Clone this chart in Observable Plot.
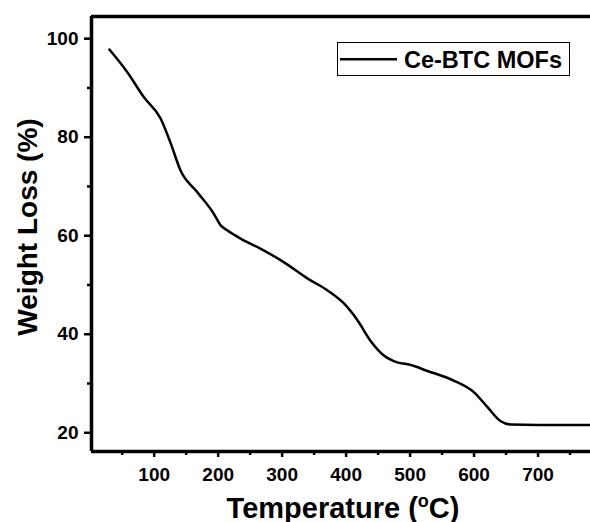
<!DOCTYPE html>
<html><head><meta charset="utf-8">
<script src="https://cdn.jsdelivr.net/npm/d3@7"></script>
<script src="https://cdn.jsdelivr.net/npm/@observablehq/plot@0.6"></script>
<style>body{margin:0;background:#fff;overflow:hidden;}</style>
</head><body><div id="chart"></div>
<script>
const temperature = [30, 58, 84, 110, 126, 141, 167, 193, 204, 214, 225, 235, 266, 303, 340, 371, 397, 418, 438, 459, 480, 500, 526, 568, 600, 621, 641, 657, 700, 782];
const weightLoss  = [97.8, 93.2, 88.1, 83.8, 78.7, 73.3, 68.9, 64.5, 62.1, 61.1, 60.2, 59.4, 57.4, 54.6, 51.3, 48.9, 46.2, 42.8, 38.7, 35.7, 34.3, 33.8, 32.6, 30.6, 28.2, 25.2, 22.4, 21.7, 21.6, 21.6];
const xMajorTicks = [100, 200, 300, 400, 500, 600, 700];
const xMinorTicks = [50, 150, 250, 350, 450, 550, 650, 750];
const yMajorTicks = [20, 40, 60, 80, 100];
const yMinorTicks = [30, 50, 70, 90];
const seriesName = "Ce-BTC MOFs";
const xLabel = "Temperature (°C)";
const yLabel = "Weight Loss (%)";

const data = temperature.map((t, i) => ({t, w: weightLoss[i]}));
const xDomain = [2, 782];
const yDomain = [16.2, 104.5];
const font = '"Liberation Sans", Arial, sans-serif';
const ink = "#000";

const chart = Plot.plot({
  width: 590, height: 522,
  marginLeft: 91, marginRight: 0, marginTop: 16, marginBottom: 71,
  style: {fontFamily: font, fontWeight: "bold", fontSize: "19px", color: ink, background: "#fff", maxWidth: "none"},
  x: {domain: xDomain},
  y: {domain: yDomain},
  marks: [
    Plot.text([xLabel], {text: d => d, frameAnchor: "bottom", textAnchor: "middle", dx: 2, dy: 66, fontSize: 29, fontWeight: "bold", fill: ink}),
    Plot.text([yLabel], {text: d => d, frameAnchor: "left", textAnchor: "middle", rotate: -90, dx: -63, dy: -7, fontSize: 28, fontWeight: "bold", fill: ink}),
    Plot.line(data, {x: "t", y: "w", curve: "monotone-x", strokeWidth: 2.5, stroke: ink}),
    Plot.axisX({ticks: xMajorTicks, tickSize: 6, tickPadding: 10, stroke: ink, strokeWidth: 2.5, label: null}),
    Plot.axisX({ticks: xMinorTicks, tickSize: 4, text: null, stroke: ink, strokeWidth: 2.5, label: null}),
    Plot.axisY({ticks: yMajorTicks, tickSize: 7, tickPadding: 6, stroke: ink, strokeWidth: 2.5, label: null}),
    Plot.axisY({ticks: yMinorTicks, tickSize: 4, text: null, stroke: ink, strokeWidth: 2.5, label: null}),
    Plot.ruleX([xDomain[0]], {stroke: ink, strokeWidth: 3.5}),
    Plot.ruleY([yDomain[0], yDomain[1]], {stroke: ink, strokeWidth: 3.5})
  ]
});
document.getElementById("chart").append(chart);

const svg = d3.select(chart);
svg.selectAll("text").filter(function() { return this.textContent === xLabel; }).each(function() {
  const parts = xLabel.split("°");
  const t = d3.select(this);
  t.text(null);
  t.append("tspan").text(parts[0]);
  t.append("tspan").attr("dy", -11).attr("font-size", 18).text("o");
  t.append("tspan").attr("dy", 11).text(parts[1]);
});

const lg = svg.append("g").attr("text-anchor", "start");
lg.append("rect").attr("x", 337.5).attr("y", 42.5).attr("width", 232).attr("height", 33)
  .attr("fill", "#fff").attr("stroke", ink).attr("stroke-width", 1);
lg.append("line").attr("x1", 340).attr("x2", 397).attr("y1", 59.3).attr("y2", 59.3)
  .attr("stroke", ink).attr("stroke-width", 2.5);
lg.append("text").attr("x", 404).attr("y", 67.5).attr("font-size", 23.5).attr("font-weight", "bold")
  .attr("font-family", font).attr("fill", ink).text(seriesName);
</script>
</body></html>
